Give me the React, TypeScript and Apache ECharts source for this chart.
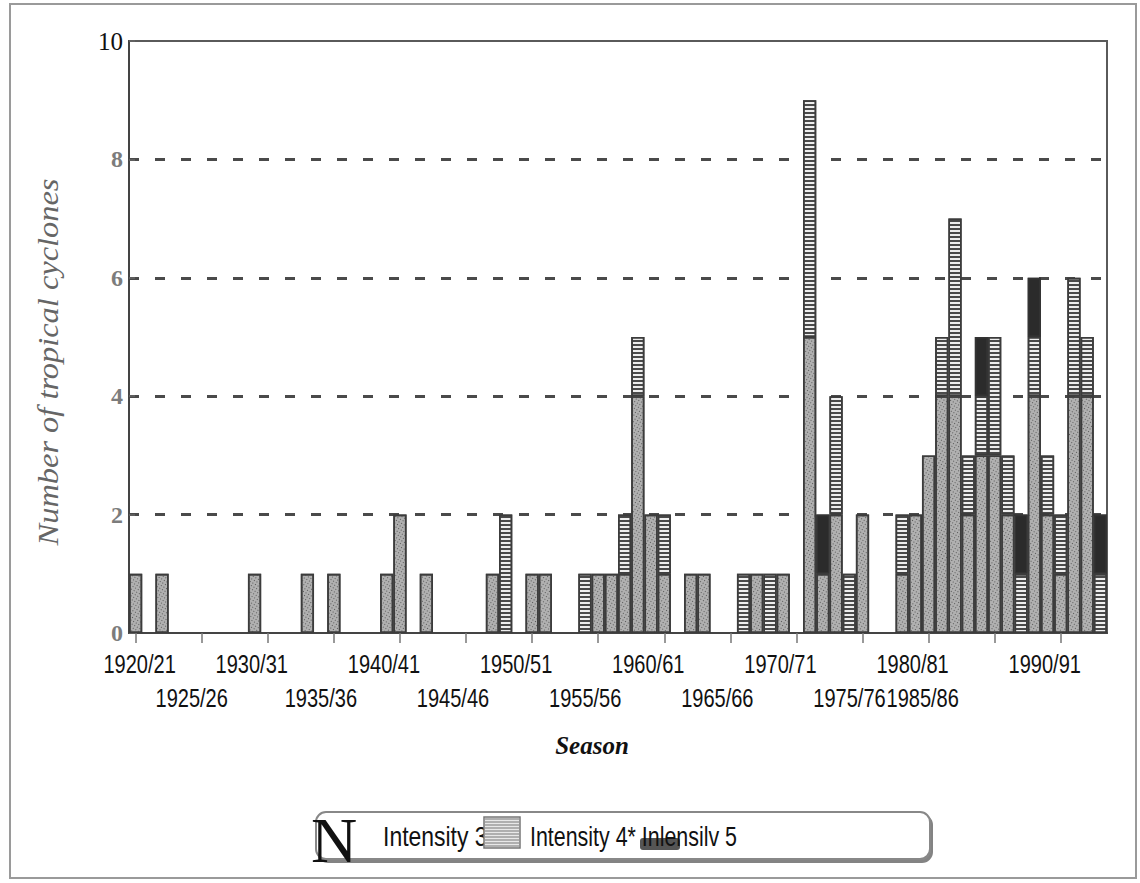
import React, { useEffect, useRef } from "react";
import * as echarts from "echarts";

const seasons = [
  "1920/21", "1921/22", "1922/23", "1923/24", "1924/25", "1925/26", "1926/27", "1927/28", "1928/29", "1929/30",
  "1930/31", "1931/32", "1932/33", "1933/34", "1934/35", "1935/36", "1936/37", "1937/38", "1938/39", "1939/40",
  "1940/41", "1941/42", "1942/43", "1943/44", "1944/45", "1945/46", "1946/47", "1947/48", "1948/49", "1949/50",
  "1950/51", "1951/52", "1952/53", "1953/54", "1954/55", "1955/56", "1956/57", "1957/58", "1958/59", "1959/60",
  "1960/61", "1961/62", "1962/63", "1963/64", "1964/65", "1965/66", "1966/67", "1967/68", "1968/69", "1969/70",
  "1970/71", "1971/72", "1972/73", "1973/74", "1974/75", "1975/76", "1976/77", "1977/78", "1978/79", "1979/80",
  "1980/81", "1981/82", "1982/83", "1983/84", "1984/85", "1985/86", "1986/87", "1987/88", "1988/89", "1989/90",
  "1990/91", "1991/92", "1992/93", "1993/94",
];

const intensity3 = [
  1, 0, 1, 0, 0, 0, 0, 0, 0, 1,
  0, 0, 0, 1, 0, 1, 0, 0, 0, 1,
  2, 0, 1, 0, 0, 0, 0, 1, 0, 0,
  1, 1, 0, 0, 0, 1, 1, 1, 4, 2,
  1, 0, 1, 1, 0, 0, 0, 1, 0, 1,
  0, 5, 1, 2, 0, 2, 0, 0, 1, 2,
  3, 4, 4, 2, 3, 3, 2, 0, 4, 2,
  1, 4, 4, 0,
];

const intensity4 = [
  0, 0, 0, 0, 0, 0, 0, 0, 0, 0,
  0, 0, 0, 0, 0, 0, 0, 0, 0, 0,
  0, 0, 0, 0, 0, 0, 0, 0, 2, 0,
  0, 0, 0, 0, 1, 0, 0, 1, 1, 0,
  1, 0, 0, 0, 0, 0, 1, 0, 1, 0,
  0, 4, 0, 2, 1, 0, 0, 0, 1, 0,
  0, 1, 3, 1, 1, 2, 1, 1, 1, 1,
  1, 2, 1, 1,
];

const intensity5 = [
  0, 0, 0, 0, 0, 0, 0, 0, 0, 0,
  0, 0, 0, 0, 0, 0, 0, 0, 0, 0,
  0, 0, 0, 0, 0, 0, 0, 0, 0, 0,
  0, 0, 0, 0, 0, 0, 0, 0, 0, 0,
  0, 0, 0, 0, 0, 0, 0, 0, 0, 0,
  0, 0, 1, 0, 0, 0, 0, 0, 0, 0,
  0, 0, 0, 0, 1, 0, 0, 1, 1, 0,
  0, 0, 0, 1,
];

// labelled seasons: first row (every 10) and second row (every 10, offset 5)
const labelsRow1 = ["1920/21", "1930/31", "1940/41", "1950/51", "1960/61", "1970/71", "1980/81", "1990/91"];
const labelsRow2 = ["1925/26", "1935/36", "1945/46", "1955/56", "1965/66", "1975/76", "1985/86"];
// horizontal nudges of printed labels relative to their ticks (as typeset in the original)
const labelNudge: Record<string, number> = { "1920/21": 4, "1925/26": -10, "1985/86": -72 };

const yTicks = [0, 2, 4, 6, 8, 10];

const SANS = "'Liberation Sans', Arial, sans-serif";
const SERIF = "'Liberation Serif', 'Times New Roman', serif";

function App() {
  const ref = useRef<HTMLDivElement>(null);

  useEffect(() => {
    if (!ref.current) return;
    const chart = echarts.init(ref.current, null, { renderer: "svg" });

    const toData = (arr: number[]) => arr.map((v) => (v === 0 ? null : v));
    const barBase = {
      type: "bar" as const,
      stack: "total",
      barCategoryGap: "0%",
      barWidth: "100%",
    };

    chart.setOption({
      animation: false,
      aria: { enabled: true, decal: { show: true } },
      grid: {
        left: 129,
        top: 41,
        width: 978,
        height: 592,
        show: true,
        borderColor: "#5a5a5a",
        borderWidth: 2,
        backgroundColor: "transparent",
      },
      xAxis: {
        type: "category",
        data: seasons,
        boundaryGap: true,
        axisLine: { lineStyle: { color: "#444", width: 2 } },
        axisTick: {
          show: true,
          interval: (i: number) => i % 5 === 0,
          alignWithLabel: true,
          length: 10,
          lineStyle: { color: "#777", width: 1.5 },
        },
        axisLabel: { show: false },
        splitLine: { show: false },
      },
      yAxis: {
        type: "value",
        min: yTicks[0],
        max: yTicks[yTicks.length - 1],
        interval: 2,
        axisLine: { show: true, lineStyle: { color: "#444", width: 2 } },
        axisTick: { show: true, inside: true, length: 6, lineStyle: { color: "#666", width: 1.5 } },
        axisLabel: {
          margin: 6,
          formatter: (v: number) => (v === 10 ? "{t|10}" : "{g|" + v + "}"),
          rich: {
            t: { fontFamily: SERIF, fontSize: 25, color: "#111" },
            g: { fontFamily: SERIF, fontSize: 24, fontWeight: "bold", color: "#7c7c7c" },
          },
        },
        splitLine: {
          show: true,
          showMinLine: false,
          showMaxLine: false,
          lineStyle: { type: [10, 16], color: "#4a4a4a", width: 3 },
        },
      },
      series: [
        {
          ...barBase,
          name: "Intensity 3",
          data: toData(intensity3),
          itemStyle: {
            color: "#b0b0b0",
            borderColor: "#3c3c3c",
            borderWidth: 1.6,
            decal: {
              symbol: "rect",
              symbolSize: 1,
              dashArrayX: [1, 2],
              dashArrayY: [1, 2],
              color: "#585858",
            },
          },
        },
        {
          ...barBase,
          name: "Intensity 4",
          data: toData(intensity4),
          itemStyle: {
            color: "#eeeeee",
            borderColor: "#3c3c3c",
            borderWidth: 1.6,
            decal: {
              symbol: "rect",
              symbolSize: 1,
              dashArrayX: [1, 0],
              dashArrayY: [2, 2],
              rotation: 0,
              color: "#4a4a4a",
            },
          },
        },
        {
          ...barBase,
          name: "Intensity 5",
          data: toData(intensity5),
          itemStyle: {
            color: "#2b2b2b",
            borderColor: "#333",
            borderWidth: 1.6,
            decal: { symbol: "none" },
          },
        },
      ],
    });

    // x-axis season labels, placed on the category axis' own pixel scale
    const xLabels: any[] = [];
    const addLabel = (s: string, row: number) => {
      const px = chart.convertToPixel({ xAxisIndex: 0 }, s) as number;
      const nudge = labelNudge[s] !== undefined ? labelNudge[s] : row === 0 ? -16 : -13;
      xLabels.push({
        type: "text",
        x: px + nudge,
        y: row === 0 ? 664 : 698,
        scaleX: 0.77,
        style: {
          text: s,
          font: "26px " + SANS,
          fill: "#111",
          align: "center",
          verticalAlign: "middle",
        },
      });
    };
    labelsRow1.forEach((s) => addLabel(s, 0));
    labelsRow2.forEach((s) => addLabel(s, 1));

    const stripes: any[] = [];
    for (let i = 0; i < 10; i++) {
      stripes.push({
        type: "line",
        shape: { x1: 485, y1: 819 + i * 3, x2: 519, y2: 819 + i * 3 },
        style: { stroke: "#777", lineWidth: 1.2 },
      });
    }

    chart.setOption({
      graphic: [
        {
          type: "rect",
          shape: { x: 10, y: 4, width: 1126, height: 874 },
          style: { fill: "none", stroke: "#9a9a9a", lineWidth: 2 },
          silent: true,
        },
        ...xLabels,
        {
          type: "text",
          x: 48,
          y: 362,
          rotation: Math.PI / 2,
          scaleX: 1.08,
          style: {
            text: "Number of tropical cyclones",
            font: "italic 30px " + SERIF,
            fill: "#666",
            align: "center",
            verticalAlign: "middle",
          },
        },
        {
          type: "text",
          x: 592,
          y: 745,
          style: {
            text: "Season",
            font: "italic bold 25px " + SERIF,
            fill: "#111",
            align: "center",
            verticalAlign: "middle",
          },
        },
        {
          type: "rect",
          shape: { x: 316, y: 812, width: 614, height: 47, r: 10 },
          style: {
            fill: "#fff",
            stroke: "#888",
            lineWidth: 2,
            shadowColor: "rgba(80,80,80,0.7)",
            shadowOffsetX: 2,
            shadowOffsetY: 3,
            shadowBlur: 1,
          },
        },
        {
          type: "text",
          x: 311,
          y: 840,
          style: {
            text: "N",
            font: "64px " + SERIF,
            fill: "#111",
            align: "left",
            verticalAlign: "middle",
          },
        },
        {
          type: "text",
          x: 383,
          y: 836,
          scaleX: 0.82,
          style: {
            text: "Intensity 3",
            font: "28px " + SANS,
            fill: "#111",
            align: "left",
            verticalAlign: "middle",
          },
        },
        {
          type: "rect",
          shape: { x: 484, y: 817, width: 36, height: 31 },
          style: { fill: "#e8e8e8", stroke: "#777", lineWidth: 1.5 },
        },
        ...stripes,
        {
          type: "rect",
          shape: { x: 640, y: 838, width: 40, height: 12, r: 3 },
          style: { fill: "#555" },
        },
        {
          type: "text",
          x: 530,
          y: 836,
          scaleX: 0.765,
          style: {
            text: "Intensity 4* Inlensilv 5",
            font: "28px " + SANS,
            fill: "#111",
            align: "left",
            verticalAlign: "middle",
          },
        },
      ],
    });

    return () => chart.dispose();
  }, []);

  return (
    <div
      ref={ref}
      style={{ position: "fixed", left: 0, top: 0, width: 1140, height: 883, background: "#fff" }}
    />
  );
}

export default App;
